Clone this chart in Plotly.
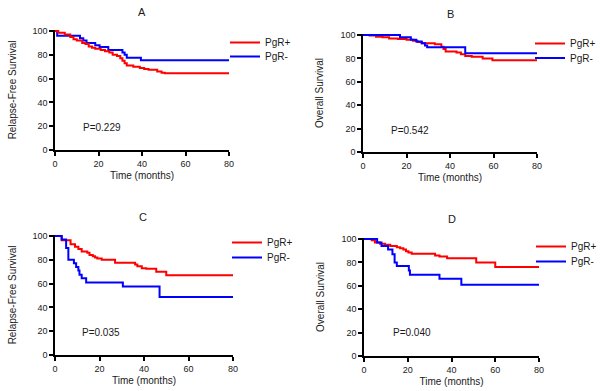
import plotly.graph_objects as go

# ---------------- data ----------------
a_pos_time = [0, 1.5, 4.5, 7, 8.5, 10, 12.5, 14, 15.5, 17, 18.5, 21, 23, 25, 26.5, 28.5, 30, 31, 32, 33, 36, 39, 41, 43, 47, 49, 50.5, 80]
a_pos_surv = [100, 98.5, 97, 95, 93, 92, 90, 89, 87, 86, 85, 84, 83, 82, 80, 79, 77, 75, 73, 71, 70, 69, 68, 67.5, 66, 65, 64.5, 64.5]
a_neg_time = [0, 1, 11.5, 13, 14.5, 18.5, 20.5, 24.5, 31, 32, 33, 39.5, 80]
a_neg_surv = [100, 96, 94, 92, 90, 88, 86.5, 84, 82, 80, 77.5, 75.5, 75.5]

b_pos_time = [0, 3, 6, 9, 12, 16, 20, 23, 25, 27, 33, 36, 37, 38, 43, 45, 47, 50, 55, 59.5, 80]
b_pos_surv = [100, 99.5, 98.5, 98, 97, 96.5, 96, 95, 94, 93, 92, 90, 88, 86, 85, 83.5, 82, 81.5, 80, 78.5, 78.5]
b_neg_time = [0, 17, 22, 24.5, 27, 28.5, 29.5, 47, 80]
b_neg_surv = [100, 98, 96, 94.5, 93, 91, 89.5, 84.5, 84.5]

c_pos_time = [0, 3, 7, 9, 10.5, 12, 14.5, 15.5, 17, 18, 19, 21, 27, 36, 37, 39, 41, 45.5, 50, 80]
c_pos_surv = [100, 96.5, 93, 91, 89, 87, 86, 84, 83, 82, 81, 80, 77.5, 76, 74.5, 73, 72.5, 70, 67, 67]
c_neg_time = [0, 3, 5, 6, 8.5, 9.5, 10.5, 11, 12, 14, 30.5, 47, 80]
c_neg_surv = [100, 97, 90, 80, 77, 74, 71, 67.5, 64.5, 61, 57.5, 48.7, 48.7]

d_pos_time = [0, 3.5, 5, 7.3, 9.6, 12, 15, 16.5, 18, 19.2, 20.3, 21.8, 32.5, 34.5, 38, 51.3, 60, 80]
d_pos_surv = [100, 99, 97, 96, 95, 94, 93, 92, 91, 89.5, 88.5, 87.5, 86, 85, 83.5, 80, 76, 76]
d_neg_time = [0, 6, 8, 11, 13, 14, 15, 20.5, 21, 34.5, 44.5, 80]
d_neg_surv = [100, 97, 94, 91, 87, 80, 77, 73, 69.5, 66, 61, 61]

panel_titles = ["A", "B", "C", "D"]
y_titles = ["Relapse-Free Survival", "Overall Survival", "Relapse-Free Survival", "Overall Survival"]
x_title = "Time (months)"
p_values = ["P=0.229", "P=0.542", "P=0.035", "P=0.040"]
series_names = ["PgR+", "PgR-"]
x_ticks = [0, 20, 40, 60, 80]
y_ticks = [0, 20, 40, 60, 80, 100]

# ---------------- layout helpers ----------------
W, H = 600, 391
RED = "#ff0000"
BLUE = "#0000ff"
FONT = "Liberation Sans, Arial, sans-serif"


def px(p):
    return p / W


def py(p):
    return 1 - p / H


# pixel geometry of each panel: x0, x80, y0, y100
geo = [
    (55, 229, 150, 31),
    (363, 537, 152, 35),
    (55, 233, 355, 236),
    (364, 539, 356, 239),
]
title_pos = [(142, 12), (450, 14), (143, 217), (452, 219)]
# legend item text-left x, and centre y of the two entries
legend_x = [263, 568, 265, 569]
legend_y = [(43, 57), (44, 58.5), (243, 258), (247, 262)]
p_pos = [(12, 18.5), (12, 18.8), (11.2, 18.5), (12.3, 20.5)]
ytitle_standoff = [14, 15, 14, 15]

data = [
    (a_pos_time, a_pos_surv, a_neg_time, a_neg_surv),
    (b_pos_time, b_pos_surv, b_neg_time, b_neg_surv),
    (c_pos_time, c_pos_surv, c_neg_time, c_neg_surv),
    (d_pos_time, d_pos_surv, d_neg_time, d_neg_surv),
]

YMAX = 101

fig = go.Figure()
annotations = []
for i, (pt, ps, nt, ns) in enumerate(data):
    n = "" if i == 0 else str(i + 1)
    xa, ya = "x" + n, "y" + n
    leg_pos = "legend" + ("" if i == 0 else str(2 * i + 1))
    leg_neg = "legend" + str(2 * i + 2)
    red_tr = go.Scatter(x=pt, y=ps, mode="lines", line=dict(color=RED, width=2, shape="hv"),
                        name=series_names[0], xaxis=xa, yaxis=ya, legend=leg_pos)
    blue_tr = go.Scatter(x=nt, y=ns, mode="lines", line=dict(color=BLUE, width=2, shape="hv"),
                         name=series_names[1], xaxis=xa, yaxis=ya, legend=leg_neg)
    if i == 0:
        fig.add_trace(blue_tr)
        fig.add_trace(red_tr)
    else:
        fig.add_trace(red_tr)
        fig.add_trace(blue_tr)

    x0, x80, y0, y100 = geo[i]
    ytop = y0 - (y0 - y100) * YMAX / 100
    axis_common = dict(showline=True, linecolor="black", linewidth=1.5, ticks="outside",
                       ticklen=4, tickwidth=1.5, tickcolor="black", showgrid=False,
                       zeroline=False, automargin=False,
                       tickfont=dict(family=FONT, size=9, color="#1a1a1a"))
    fig.layout["xaxis" + n] = dict(domain=[px(x0), px(x80)], range=[0, 80], tickvals=x_ticks,
                                   anchor=ya, title=dict(text=x_title, standoff=4,
                                                         font=dict(family=FONT, size=10, color="#1a1a1a")),
                                   **axis_common)
    fig.layout["yaxis" + n] = dict(domain=[py(y0), py(ytop)], range=[0, YMAX], tickvals=y_ticks,
                                   anchor=xa, title=dict(text=y_titles[i], standoff=ytitle_standoff[i],
                                                         font=dict(family=FONT, size=10, color="#1a1a1a")),
                                   **axis_common)
    for leg, yc in ((leg_pos, legend_y[i][0]), (leg_neg, legend_y[i][1])):
        fig.layout[leg] = dict(x=px(legend_x[i] - 38), y=py(yc - 15), xanchor="left", yanchor="top",
                               bgcolor="rgba(0,0,0,0)", font=dict(family=FONT, size=10, color="#1a1a1a"))
    tx, ty = title_pos[i]
    annotations.append(dict(text=panel_titles[i], x=px(tx), y=py(ty), xref="paper", yref="paper",
                            showarrow=False, xanchor="center", yanchor="middle",
                            font=dict(family=FONT, size=11, color="#1a1a1a")))
    annotations.append(dict(text=p_values[i], x=p_pos[i][0], y=p_pos[i][1], xref=xa, yref=ya,
                            showarrow=False, xanchor="left", yanchor="middle",
                            font=dict(family=FONT, size=10, color="#1a1a1a")))

fig.update_layout(width=W, height=H, margin=dict(l=0, r=0, t=0, b=0, autoexpand=False),
                  plot_bgcolor="white", paper_bgcolor="white", annotations=annotations,
                  showlegend=True)
fig.write_html("out.html", config={"displayModeBar": False},
               post_script="document.body.style.margin='0';")
